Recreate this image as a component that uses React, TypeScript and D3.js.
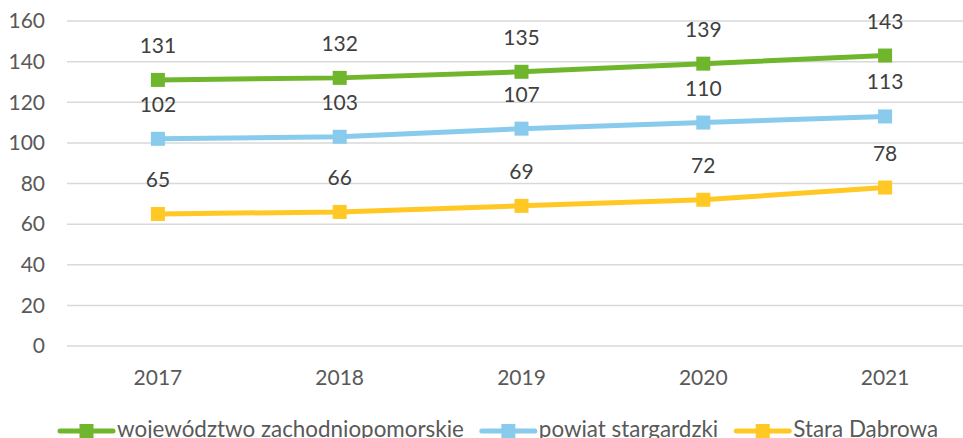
import React, { useEffect, useRef } from "react";
import * as d3 from "d3";

const years = ["2017", "2018", "2019", "2020", "2021"];
const wojewodztwo = [131, 132, 135, 139, 143];
const powiat = [102, 103, 107, 110, 113];
const stara = [65, 66, 69, 72, 78];
const yTicks = [0, 20, 40, 60, 80, 100, 120, 140, 160];

const seriesList = [
  { name: "województwo zachodniopomorskie", values: wojewodztwo, color: "#70B62C" },
  { name: "powiat stargardzki", values: powiat, color: "#88CBEC" },
  { name: "Stara Dąbrowa", values: stara, color: "#FFC825" },
];

const W = 963;
const H = 438;
const FONT = "Lato, 'Open Sans', sans-serif";

export default function App() {
  const svgRef = useRef<SVGSVGElement>(null);

  useEffect(() => {
    if (!svgRef.current) return;
    const svg = d3.select(svgRef.current);
    svg.selectAll("*").remove();

    // plot area
    const left = 67;
    const right = 976;
    const top = 21;
    const bottom = 346;

    const x = d3.scaleBand().domain(years).range([left, right]);
    const cx = (d: string) => (x(d) || 0) + x.bandwidth() / 2;
    const y = d3.scaleLinear().domain([0, 160]).range([bottom, top]);

    // grid
    svg
      .append("g")
      .selectAll("line")
      .data(yTicks)
      .enter()
      .append("line")
      .attr("x1", left)
      .attr("x2", right)
      .attr("y1", (d) => y(d))
      .attr("y2", (d) => y(d))
      .attr("stroke", "#D9D9D9")
      .attr("stroke-width", 1.5);

    // y labels
    svg
      .append("g")
      .selectAll("text")
      .data(yTicks)
      .enter()
      .append("text")
      .attr("x", 45)
      .attr("y", (d) => y(d))
      .attr("dy", "0.35em")
      .attr("text-anchor", "end")
      .attr("font-family", FONT)
      .attr("font-size", 21)
      .attr("fill", "#595959")
      .text((d) => d);

    // x labels
    svg
      .append("g")
      .selectAll("text")
      .data(years)
      .enter()
      .append("text")
      .attr("x", (d) => cx(d))
      .attr("y", 385)
      .attr("text-anchor", "middle")
      .attr("font-family", FONT)
      .attr("font-size", 21)
      .attr("fill", "#595959")
      .text((d) => d);

    // series
    seriesList.forEach((s) => {
      const line = d3
        .line<number>()
        .x((_, i) => cx(years[i]))
        .y((d) => y(d));
      const g = svg.append("g");
      g.append("path")
        .datum(s.values)
        .attr("fill", "none")
        .attr("stroke", s.color)
        .attr("stroke-width", 5)
        .attr("stroke-linejoin", "round")
        .attr("d", line);
      g.selectAll("rect")
        .data(s.values)
        .enter()
        .append("rect")
        .attr("x", (_, i) => cx(years[i]) - 7)
        .attr("y", (d) => y(d) - 7)
        .attr("width", 14)
        .attr("height", 14)
        .attr("fill", s.color);
      g.selectAll("text")
        .data(s.values)
        .enter()
        .append("text")
        .attr("x", (_, i) => cx(years[i]))
        .attr("y", (d) => y(d) - 27)
        .attr("text-anchor", "middle")
        .attr("font-family", FONT)
        .attr("font-size", 21)
        .attr("fill", "#404040")
        .text((d) => d);
    });

    // legend
    let lx = 60;
    const ly = 431;
    seriesList.forEach((s) => {
      const item = svg.append("g");
      item
        .append("line")
        .attr("x1", lx)
        .attr("x2", lx + 53)
        .attr("y1", ly)
        .attr("y2", ly)
        .attr("stroke", s.color)
        .attr("stroke-width", 5)
        .attr("stroke-linecap", "round");
      item
        .append("rect")
        .attr("x", lx + 26.5 - 7)
        .attr("y", ly - 7)
        .attr("width", 14)
        .attr("height", 14)
        .attr("fill", s.color);
      const t = item
        .append("text")
        .attr("x", lx + 57)
        .attr("y", 437)
        .attr("font-family", FONT)
        .attr("font-size", 22.4)
        .attr("fill", "#595959")
        .text(s.name);
      const tw = (t.node() as SVGTextElement).getComputedTextLength();
      lx = lx + 57 + tw + 18;
    });
  }, []);

  return (
    <svg
      ref={svgRef}
      width={W}
      height={H}
      style={{ position: "absolute", left: 0, top: 0, background: "#fff" }}
    />
  );
}
